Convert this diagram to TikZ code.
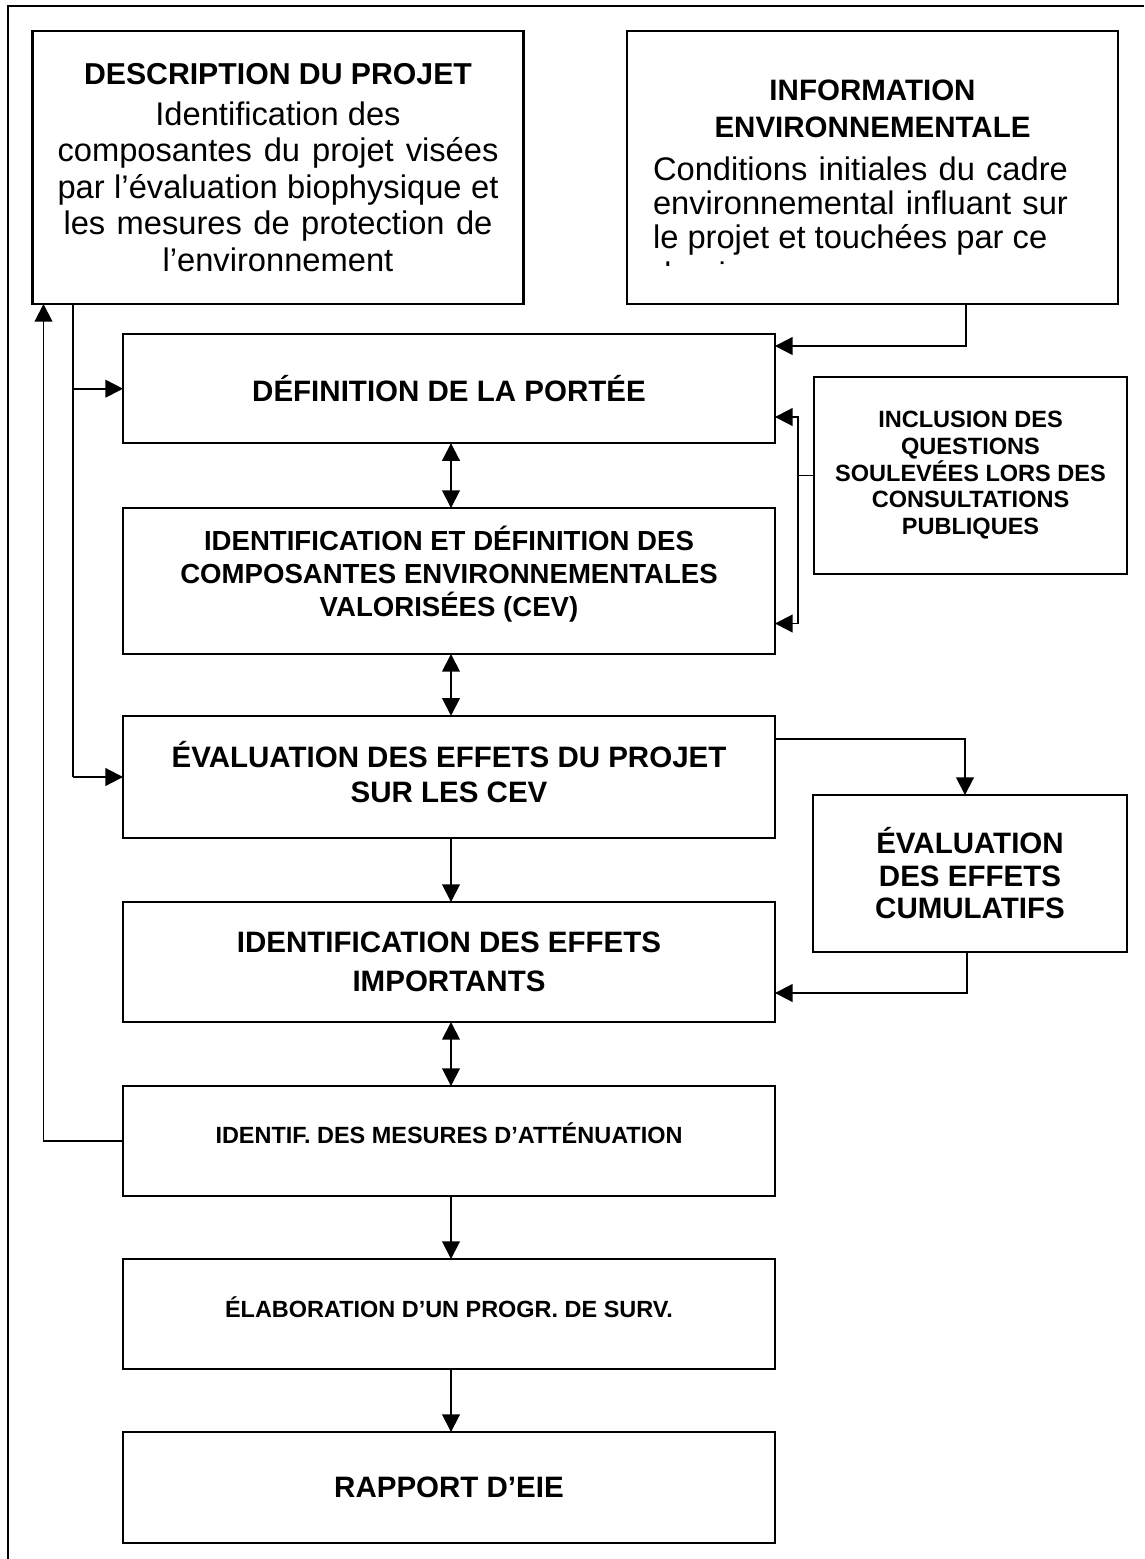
\documentclass[tikz,border=0pt]{standalone}
\usepackage{fontspec}
\setmainfont{Liberation Sans}
\usetikzlibrary{arrows.meta}
\newcommand\shim[1]{\rule[-#1]{0pt}{0pt}}
\tikzset{
  box/.style={draw, line width=1.4pt, inner sep=0pt, outer sep=0pt, align=center},
  wire/.style={line width=1.1pt},
  conn/.style={line width=1.1pt, -{Triangle[length=10pt,width=10pt]}},
  dbl/.style={line width=1.1pt, {Triangle[length=10pt,width=10pt]}-{Triangle[length=10pt,width=10pt]}},
  mainbox/.style={box, minimum width=13.04cm},
  bigbold/.style={font=\bfseries\fontsize{16.8pt}{20pt}\selectfont},
  smallbold/.style={font=\bfseries\fontsize{13.35pt}{15.2pt}\selectfont},
}
\begin{document}
\begin{tikzpicture}[x=0.02cm, y=-0.02cm]
\useasboundingbox (0,0) rectangle (1144,1559);
% outer frame (left and top edges)
\draw[line width=1.1pt] (8,1559) -- (8,6) -- (1144,6);

% top boxes
\node[box, minimum width=9.82cm, minimum height=5.46cm,
      font=\fontsize{18.6pt}{20.75pt}\selectfont] (desc) at (278,167.5)
 {{\bfseries\fontsize{17.2pt}{20.75pt}\selectfont DESCRIPTION DU PROJET}\\[2.6pt]
  Identification des\\
  \makebox[8.82cm][s]{composantes du projet visées}\\
  \makebox[8.82cm][s]{par l’évaluation biophysique et}\\
  \makebox[8.58cm][s]{les mesures de protection de}\\
  l’environnement};

\node[box, minimum width=9.82cm, minimum height=5.46cm,
      font=\fontsize{18.6pt}{19.35pt}\selectfont] (info) at (872.5,167.5)
 {{\bfseries\fontsize{16.8pt}{19.35pt}\selectfont INFORMATION}\\[1.7pt]
  {\bfseries\fontsize{16.8pt}{19.35pt}\selectfont ENVIRONNEMENTALE}\\[5.4pt]
  \makebox[8.3cm][s]{Conditions initiales du cadre}\kern0.48cm\\
  \makebox[8.3cm][s]{environnemental influant sur}\kern0.48cm\\
  \makebox[8.3cm][l]{le projet et touchées par ce}\kern0.48cm\shim{3.4pt}};
\begin{scope}
  \clip (627,240) rectangle (1118,265.5);
  \node[anchor=base west, inner sep=0pt, font=\fontsize{18.6pt}{19.35pt}\selectfont]
    (infocut) at (653,285) {dernier.};
\end{scope}

% main column
\node[mainbox, minimum height=2.18cm, bigbold] (def) at (449,388.7)
  {DÉFINITION DE LA PORTÉE};
\node[mainbox, minimum height=2.92cm,
      font=\bfseries\fontsize{15.7pt}{18.8pt}\selectfont] (ident) at (449,581)
  {IDENTIFICATION ET DÉFINITION DES\\
   COMPOSANTES ENVIRONNEMENTALES\\
   VALORISÉES (CEV)\shim{11.4pt}};
\node[mainbox, minimum height=2.45cm,
      font=\bfseries\fontsize{16.8pt}{19.9pt}\selectfont] (eval) at (449,777)
  {ÉVALUATION DES EFFETS DU PROJET\\SUR LES CEV\shim{5.7pt}};
\node[mainbox, minimum height=2.4cm,
      font=\bfseries\fontsize{16.8pt}{22.2pt}\selectfont] (effets) at (449,962)
  {IDENTIFICATION DES EFFETS\\IMPORTANTS};
\node[mainbox, minimum height=2.2cm, smallbold] (mes) at (449,1141)
  {IDENTIF. DES MESURES D’ATTÉNUATION\shim{9.1pt}};
\node[mainbox, minimum height=2.2cm, smallbold] (elab) at (449,1314)
  {ÉLABORATION D’UN PROGR. DE SURV.\shim{8pt}};
\node[mainbox, minimum height=2.22cm, bigbold] (rapport) at (449,1487.5)
  {RAPPORT D’EIE};

% side boxes
\node[box, minimum width=6.26cm, minimum height=3.94cm,
      font=\bfseries\fontsize{13.4pt}{15.3pt}\selectfont] (incl) at (970.5,475.5)
  {INCLUSION DES\\QUESTIONS\\SOULEVÉES LORS DES\\CONSULTATIONS\\PUBLIQUES\shim{3pt}};
\node[box, minimum width=6.28cm, minimum height=3.14cm,
      font=\bfseries\fontsize{16.8pt}{18.5pt}\selectfont] (cumul) at (970,873.5)
  {ÉVALUATION\\DES EFFETS\\CUMULATIFS};

% helper coordinates
\coordinate (col) at (451,0);
\coordinate (iT) at (966,346);
\coordinate (bus) at (73,0);
\coordinate (loopx) at (43.5,0);
\coordinate (ia) at (798,417);
\coordinate (ic) at (798,623.5);
\coordinate (ec) at (965,739);
\coordinate (ce) at (967,993);

% connectors
\draw[conn] (info.south -| iT) -- (iT) -- (def.east |- iT);
\draw[wire] (desc.south -| bus) -- (eval.west -| bus);
\draw[conn] (def.west -| bus) -- (def.west);
\draw[conn] (eval.west -| bus) -- (eval.west);
\draw[conn] (mes.west) -- (mes.west -| loopx) -- (desc.south -| loopx);
\draw[wire] (incl.west) -- (incl.west -| ia);
\draw[conn] (incl.west -| ia) -- (ia) -- (def.east |- ia);
\draw[conn] (incl.west -| ic) -- (ic) -- (ident.east |- ic);
\draw[conn] (eval.east |- ec) -- (ec) -- (cumul.north -| ec);
\draw[conn] (cumul.south -| ce) -- (ce) -- (effets.east |- ce);
\draw[dbl] (def.south -| col) -- (ident.north -| col);
\draw[dbl] (ident.south -| col) -- (eval.north -| col);
\draw[conn] (eval.south -| col) -- (effets.north -| col);
\draw[dbl] (effets.south -| col) -- (mes.north -| col);
\draw[conn] (mes.south -| col) -- (elab.north -| col);
\draw[conn] (elab.south -| col) -- (rapport.north -| col);
\end{tikzpicture}
\end{document}
